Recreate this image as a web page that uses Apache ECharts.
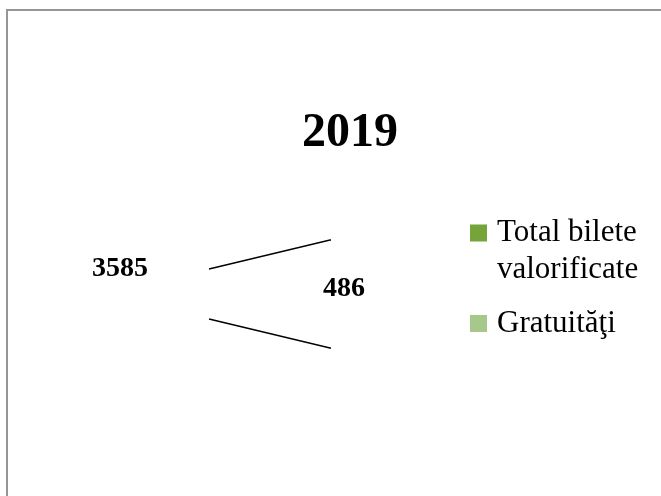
<!DOCTYPE html>
<html>
<head>
<meta charset="utf-8">
<script src="https://cdn.jsdelivr.net/npm/echarts@6/dist/echarts.min.js"></script>
<style>
    html, body { margin: 0; padding: 0; background: #fff; overflow: hidden; }
    #frame { position: absolute; left: 6px; top: 9px; width: 720px; height: 560px; border: 2px solid #969696; }
    #chart-container { position: absolute; left: 0; top: 0; width: 661px; height: 496px; }
</style>
</head>
<body>
<div id="frame"></div>
<div id="chart-container"></div>
<script>
// date din grafic
var chartTitle = '2019';
var categories = ['Total bilete valorificate', 'Gratuităţi'];
var values = [3585, 486];

// culori pentru legenda
var colors = ['#77a33b', '#a7c88b'];

// unde stau etichetele de valori (pozitii, nu date)
var labelSpots = [[120, 269], [344, 289]];

$ready();

function $ready() {
    var myChart = echarts.init(document.getElementById('chart-container'));

    var pieData = categories.map(function (name, i) {
        return { name: name, value: values[i] };
    });

    // numele lungi trec pe doua randuri; primul rand ramane in dreptul patratului
    // (un rand gol deasupra, pentru ca textul e centrat pe iconita)
    function wrapName(name) {
        var words = name.split(' ');
        if (words.length <= 2) return name;
        return '\n' + words.slice(0, 2).join(' ') + '\n' + words.slice(2).join(' ');
    }

    var serifFont = '"Liberation Serif", "Times New Roman", serif';

    var option = {
        color: colors,
        animation: false,
        title: {
            text: chartTitle,
            left: 297,
            top: 105,
            textStyle: { fontFamily: serifFont, fontSize: 48, fontWeight: 'bold', color: '#000' }
        },
        legend: {
            orient: 'vertical',
            left: 465,
            top: 172.5,
            itemWidth: 17,
            itemHeight: 17,
            itemGap: 16.5,
            icon: 'rect',
            itemStyle: { opacity: 1 },
            formatter: wrapName,
            textStyle: {
                fontFamily: serifFont, fontSize: 31, lineHeight: 37, color: '#000',
                padding: [0, 0, 0, 5]
            },
            data: categories
        },
        series: [
            {
                // doar liniile de legatura (felia nu se vede)
                type: 'pie',
                silent: true,
                center: [104.7, 294],
                radius: 107.3,
                startAngle: 37.23,
                endAngle: -16.7,
                avoidLabelOverlap: false,
                itemStyle: { opacity: 0 },
                label: { show: true, position: 'outside', color: 'rgba(0,0,0,0)', fontSize: 1 },
                labelLine: {
                    show: true,
                    length: 124.4,
                    length2: 1,
                    lineStyle: { color: '#000', width: 1.4, opacity: 1 }
                },
                emphasis: { disabled: true },
                data: pieData
            },
            {
                // etichetele cu valori
                type: 'pie',
                silent: true,
                center: [104.7, 294],
                radius: 107.3,
                itemStyle: { opacity: 0 },
                label: {
                    show: true,
                    position: 'inside',
                    formatter: '{c}',
                    fontFamily: serifFont,
                    fontSize: 28,
                    fontWeight: 'bold',
                    color: '#000',
                    opacity: 1
                },
                labelLine: { show: false },
                labelLayout: function (params) {
                    var p = labelSpots[params.dataIndex];
                    return { x: p[0], y: p[1], align: 'center', verticalAlign: 'middle' };
                },
                emphasis: { disabled: true },
                data: pieData
            }
        ]
    };

    myChart.setOption(option);
}
</script>
</body>
</html>
